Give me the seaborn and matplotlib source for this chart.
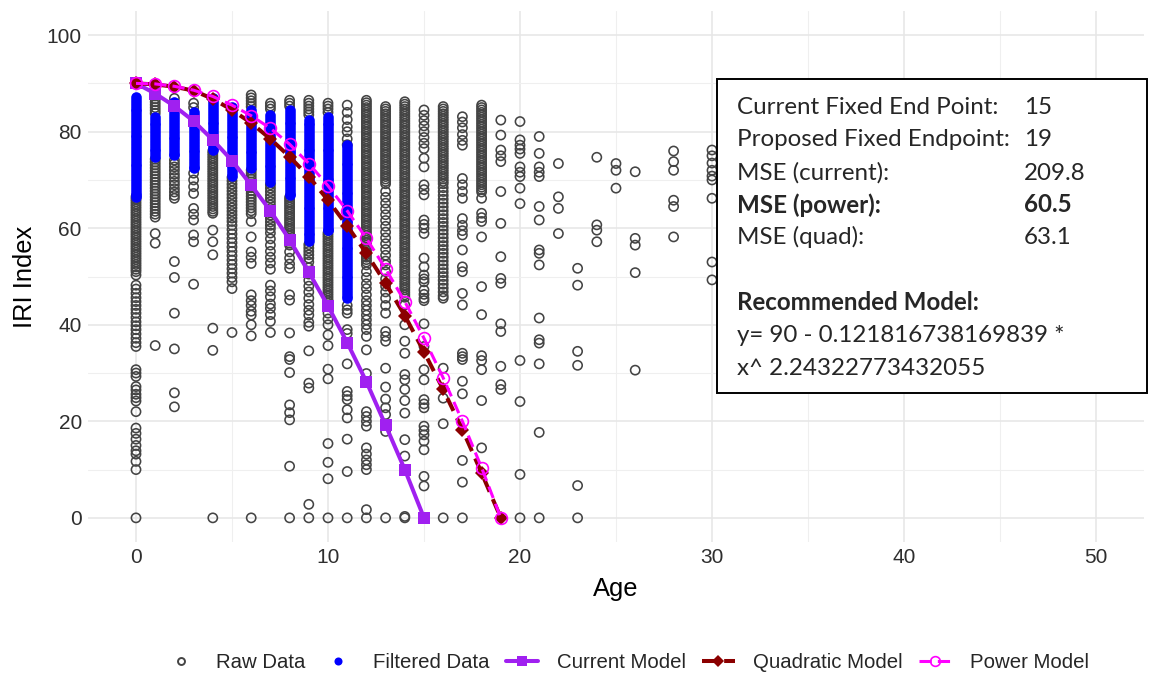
import numpy as np
import pandas as pd
import matplotlib
matplotlib.use("Agg")
import matplotlib.pyplot as plt
from matplotlib.lines import Line2D
from matplotlib.patches import Rectangle
import seaborn as sns

# ---------------- data ----------------
RAW_0 = [66.5, 66.0, 65.5, 65.0, 64.5, 64.0, 63.5, 63.0, 62.5, 62.0, 61.5, 61.0, 60.5, 60.0, 59.5, 59.0, 58.5, 58.0,
         57.5, 57.0, 56.5, 56.0, 55.5, 55.0, 54.5, 54.0, 53.5, 53.0, 52.5, 52.0, 51.5, 51.0,
         50.3, 48.2, 47.4, 46.5, 45.6, 44.8, 44.0, 43.2, 42.4, 41.5, 40.6, 39.8, 39.0, 38.1, 37.2, 36.3, 35.5, 30.7,
         30.0, 29.3, 27.2, 26.5, 25.6, 24.9, 24.2, 22.0, 18.6, 17.5, 16.3, 15.0, 13.9, 13.2, 11.7, 10.0, 0.0]
RAW_1 = [88.6, 88.0, 87.4, 86.8, 86.2, 85.6, 85.0, 84.4, 83.8, 74.3, 73.7, 73.1, 72.5, 71.9, 71.3, 70.7, 70.1, 69.5,
         68.9, 68.3, 67.7, 67.1, 66.5, 65.9, 65.3, 64.7, 64.1, 63.5, 62.9, 62.3, 58.9, 56.9, 35.7]
RAW_2 = [86.9, 74.1, 73.4, 72.7, 72.0, 71.2, 70.5, 69.7, 69.0, 68.2, 67.5, 66.8, 66.2, 53.1, 49.8, 42.4, 35.0, 25.9,
         23.0]
RAW_3 = [85.9, 85.0, 71.4, 70.0, 68.6, 67.2, 64.1, 62.9, 61.7, 58.6, 57.2, 48.4]
RAW_4 = [76.0, 75.5, 75.0, 74.5, 74.0, 73.5, 73.0, 72.5, 72.0, 71.5, 71.0, 70.5, 70.0, 69.5, 69.0, 68.5, 68.0, 67.5,
         67.0, 66.5, 66.0, 65.5, 65.0, 64.5, 64.0, 63.5, 63.1, 59.6, 57.2, 54.5, 39.3, 34.7, 0.0]
RAW_5 = [70.5, 69.8, 69.1, 68.4, 67.7, 67.0, 66.3, 65.6, 64.9, 64.2, 63.5, 62.8, 62.1, 61.4, 60.6, 59.7, 58.8, 57.9,
         57.0, 56.1, 55.2, 54.3, 53.4, 52.5, 51.6, 50.7, 49.8, 48.9, 47.5, 38.4]
RAW_6 = [87.6, 87.0, 86.4, 85.8, 85.2, 72.0, 71.4, 70.8, 70.2, 69.6, 69.0, 68.4, 67.8, 67.2, 66.6, 66.0, 65.4, 64.8,
         64.2, 63.6, 63.0, 61.4, 58.2, 55.1, 54.0, 52.7, 46.2, 45.0, 44.0, 42.8, 42.0, 40.0, 37.7, 0.0]
RAW_7 = [85.9, 85.3, 84.7, 69.0, 68.3, 67.6, 66.9, 66.2, 65.5, 64.8, 64.1, 63.4, 62.7, 62.0, 61.3, 60.6, 59.9, 59.0,
         57.8, 56.5, 55.2, 54.0, 52.8, 51.5, 48.2, 47.0, 45.8, 44.3, 43.4, 42.1, 40.7, 38.4]
RAW_8 = [86.5, 85.9, 85.3, 66.4, 65.9, 65.4, 64.9, 64.4, 63.9, 63.4, 62.9, 62.4, 61.9, 61.4, 60.9, 60.4, 59.9, 59.4,
         58.9, 58.4, 57.9, 57.4, 56.9, 56.5, 55.1, 53.8, 52.6, 51.7, 46.2, 45.1, 38.3, 33.4, 32.8, 30.1, 23.4, 21.8,
         20.3, 10.7, 0.0]
RAW_9 = [86.5, 85.9, 85.3, 84.7, 84.1, 83.5, 56.6, 55.9, 55.2, 54.5, 53.8, 53.0, 51.8, 50.5, 49.2, 48.0, 46.8, 45.5,
         44.2, 43.0, 42.0, 40.5, 39.7, 34.6, 27.9, 26.9, 2.8, 0.0]
RAW_10 = [85.9, 85.3, 84.7, 84.0, 59.0, 58.5, 58.0, 57.5, 57.0, 56.5, 56.0, 55.5, 55.0, 54.5, 54.0, 53.5, 53.0, 52.5,
          52.0, 51.5, 51.0, 50.5, 50.0, 49.5, 49.0, 48.5, 48.0, 47.5, 47.0, 46.5, 46.0, 45.5, 45.0, 44.5, 44.0, 42.4,
          41.2, 40.0, 37.9, 35.7, 30.8, 28.8, 15.4, 11.5, 8.1, 0.0]
RAW_11 = [85.5, 84.0, 82.5, 81.0, 80.0, 78.5, 77.3, 44.0, 43.1, 42.4, 39.0, 38.2, 31.9, 26.2, 25.3, 24.5, 22.4, 20.7,
          16.3, 9.6, 0.0]
RAW_12 = [86.5, 86.0, 85.5, 85.0, 84.5, 84.0, 83.5, 83.0, 82.5, 82.0, 81.5, 81.0, 80.5, 80.0, 79.5, 79.0, 78.5, 78.0,
          77.5, 77.0, 76.5, 76.0, 75.5, 75.0, 74.5, 74.0, 73.5, 73.0, 72.5, 72.0, 71.5, 71.0, 70.5, 70.0, 69.5, 69.0,
          68.5, 68.0, 67.5, 67.0, 66.5, 66.0, 65.5, 65.0, 64.5, 64.0, 63.5, 63.0, 62.5, 62.0, 61.5, 61.0, 60.5, 60.0,
          59.5, 59.0, 58.5, 58.0, 57.5, 57.0, 56.5, 56.0, 55.5, 55.0, 54.5, 54.0, 53.5, 53.0, 52.4, 51.0, 49.8, 48.5,
          47.5, 46.2, 45.0, 44.0, 43.0, 42.0, 41.0, 40.0, 39.0, 37.6, 34.8, 29.9, 22.0, 21.0, 20.0, 19.0, 14.5, 13.2,
          12.0, 11.0, 10.0, 1.7, 0.0]
RAW_13 = [85.2, 84.7, 84.2, 83.7, 83.2, 82.7, 82.2, 81.7, 81.2, 80.7, 80.2, 79.7, 79.2, 78.7, 78.2, 77.7, 77.2, 76.7,
          76.2, 75.7, 75.2, 74.7, 74.2, 73.7, 73.2, 72.7, 72.2, 71.7, 71.2, 70.7, 70.2, 69.7, 69.2, 67.6, 66.4, 65.2,
          64.0, 62.8, 61.6, 60.4, 59.2, 58.0, 56.8, 55.6, 54.4, 53.2, 52.4, 51.0, 49.5, 48.0, 46.8, 45.5, 44.0, 42.4,
          38.6, 37.6, 36.6, 31.0, 27.1, 24.6, 22.8, 21.4, 17.9, 0.0]
RAW_14 = [86.2, 85.7, 85.2, 84.7, 84.2, 83.7, 83.2, 82.7, 82.2, 81.7, 81.2, 80.7, 80.2, 79.7, 79.2, 78.7, 78.2, 77.7,
          77.2, 76.7, 76.2, 75.7, 75.2, 74.7, 74.2, 73.7, 73.2, 72.7, 72.2, 71.7, 71.2, 70.7, 70.2, 69.7, 69.2, 68.7,
          68.2, 67.7, 67.2, 66.7, 66.2, 65.7, 65.2, 64.7, 64.2, 63.7, 63.2, 62.7, 62.2, 61.7, 61.2, 60.7, 60.2, 59.7,
          59.2, 58.7, 58.2, 57.7, 57.2, 56.7, 56.2, 55.7, 55.2, 54.7, 54.2, 53.7, 53.2, 52.7, 52.2, 51.7, 51.2, 50.7,
          50.2, 49.7, 49.2, 48.7, 48.2, 47.7, 47.2, 46.7, 46.2, 45.7, 44.1, 40.0, 36.6, 34.1, 29.7, 28.6, 26.6, 24.3,
          21.7, 16.2, 12.8, 0.3, 0.0]
RAW_15 = [84.5, 83.4, 82.3, 81.2, 80.0, 78.8, 77.6, 76.5, 74.5, 72.7, 69.0, 68.0, 66.9, 61.7, 60.8, 60.0, 58.9, 53.8,
          52.0, 50.3, 49.5, 48.9, 47.2, 46.3, 45.5, 45.0, 40.2, 35.5, 30.7, 28.6, 24.5, 23.6, 22.8, 19.0, 18.1, 17.2,
          15.9, 14.1, 8.6, 6.6, 0.0]
RAW_16 = [85.2, 84.7, 84.2, 83.7, 83.2, 82.7, 82.2, 81.7, 81.2, 80.7, 80.2, 79.7, 79.2, 78.7, 78.2, 77.7, 77.2, 76.7,
          76.2, 75.7, 75.2, 74.7, 74.2, 73.7, 73.2, 72.7, 72.2, 71.7, 71.2, 70.7, 70.2, 69.7, 69.2, 68.4, 67.6, 66.8,
          66.0, 65.2, 64.4, 63.6, 62.8, 62.0, 61.2, 60.4, 59.6, 58.8, 58.0, 57.2, 56.4, 55.6, 54.8, 54.0, 53.2, 52.4,
          51.6, 50.8, 50.0, 49.2, 48.4, 47.6, 46.8, 46.0, 45.5, 31.0, 24.8, 19.5, 0.0]
RAW_17 = [83.1, 82.0, 80.8, 79.4, 78.2, 77.2, 70.3, 69.0, 67.6, 66.2, 62.0, 60.6, 59.5, 58.6, 55.5, 52.0, 51.0, 46.5,
          44.1, 34.1, 33.4, 32.8, 28.3, 25.7, 11.9, 7.4, 0.0]
RAW_18 = [85.5, 85.0, 84.5, 84.0, 83.5, 83.0, 82.5, 82.0, 81.5, 81.0, 80.5, 80.0, 79.5, 79.0, 78.5, 78.0, 77.5, 77.0,
          76.5, 76.0, 75.5, 75.0, 74.5, 74.0, 73.5, 73.0, 72.5, 72.0, 71.5, 71.0, 70.5, 70.0, 69.5, 69.0, 68.5, 68.0,
          67.5, 66.2, 63.1, 62.2, 61.4, 58.2, 47.9, 42.1, 33.6, 32.6, 30.7, 24.3, 14.5]
RAW_19 = [82.4, 79.3, 76.2, 75.0, 73.8, 67.6, 61.0, 54.1, 49.6, 48.6, 40.2, 38.6, 31.4, 27.6, 26.6]
RAW_20 = [82.1, 78.3, 77.2, 76.4, 75.5, 72.7, 71.6, 70.7, 68.3, 65.1, 32.6, 24.1, 9.0, 0.0]
RAW_21 = [79.0, 75.5, 72.7, 71.6, 70.7, 64.5, 61.7, 55.5, 54.8, 52.4, 41.4, 36.9, 36.2, 31.9, 17.7, 0.0]
RAW_22 = [73.4, 66.5, 64.1, 58.9]
RAW_23 = [51.7, 48.2, 34.5, 31.6, 6.7, 0.0]
RAW_24 = [74.7, 60.7, 59.6, 57.2]
RAW_25 = [73.4, 72.0, 68.3]
RAW_26 = [71.7, 57.9, 56.5, 50.8, 30.6]
RAW_28 = [76.0, 73.8, 72.0, 65.8, 64.5, 58.2]
RAW_30 = [76.2, 75.0, 73.5, 72.0, 70.8, 70.0, 66.2, 53.0, 49.3]

RAW_AGES = [0, 1, 2, 3, 4, 5, 6, 7, 8, 9, 10, 11, 12, 13, 14, 15, 16, 17, 18, 19, 20, 21, 22, 23, 24, 25, 26, 28, 30]
RAW_VALUES = [RAW_0, RAW_1, RAW_2, RAW_3, RAW_4, RAW_5, RAW_6, RAW_7, RAW_8, RAW_9, RAW_10, RAW_11, RAW_12, RAW_13,
              RAW_14, RAW_15, RAW_16, RAW_17, RAW_18, RAW_19, RAW_20, RAW_21, RAW_22, RAW_23, RAW_24, RAW_25,
              RAW_26, RAW_28, RAW_30]

FILT_0 = [87.2, 86.6, 86.0, 85.4, 84.8, 84.2, 83.6, 83.0, 82.4, 81.8, 81.2, 80.6, 80.0, 79.4, 78.8, 78.2, 77.6, 77.0,
          76.4, 75.8, 75.2, 74.6, 74.0, 73.4, 72.8, 72.2, 71.6, 71.0, 70.4, 69.8, 69.2, 68.6, 68.0, 67.4, 66.8, 66.5]
FILT_1 = [83.1, 82.5, 81.9, 81.3, 80.7, 80.1, 79.5, 78.9, 78.3, 77.7, 77.1, 76.5, 75.9, 75.3, 74.8]
FILT_2 = [86.2, 85.6, 85.0, 84.4, 83.8, 83.2, 82.6, 82.0, 81.4, 80.8, 80.2, 79.6, 79.0, 78.4, 77.8, 77.2, 76.6, 76.0,
          75.4, 75.2]
FILT_3 = [84.1, 83.5, 82.9, 82.3, 81.7, 81.1, 80.5, 79.9, 79.3, 78.7, 78.1, 77.5, 76.9, 76.3, 75.7, 75.1, 74.5, 73.9,
          73.3, 72.7, 72.4]
FILT_4 = [86.9, 86.3, 85.7, 85.1, 84.5, 83.9, 83.3, 82.7, 82.1, 81.5, 80.9, 80.3, 79.7, 79.1, 78.5, 77.9, 77.3, 76.7,
          76.2]
FILT_5 = [85.2, 84.6, 84.0, 83.4, 82.8, 82.2, 81.6, 81.0, 80.4, 79.8, 79.2, 78.6, 78.0, 77.4, 76.8, 76.2, 75.6, 75.0,
          74.4, 73.8, 73.2, 72.6, 72.0, 71.4, 70.8]
FILT_6 = [84.5, 83.9, 83.3, 82.7, 82.1, 81.5, 80.9, 80.3, 79.7, 79.1, 78.5, 77.9, 77.3, 76.7, 76.1, 75.5, 74.9, 74.3,
          73.7, 73.1, 72.5]
FILT_7 = [83.4, 82.8, 82.2, 81.6, 81.0, 80.4, 79.8, 79.2, 78.6, 78.0, 77.4, 76.8, 76.2, 75.6, 75.0, 74.4, 73.8, 73.2,
          72.6, 72.0, 71.4, 70.8, 70.2, 69.6]
FILT_8 = [84.5, 83.9, 83.3, 82.7, 82.1, 81.5, 80.9, 80.3, 79.7, 79.1, 78.5, 77.9, 77.3, 76.7, 76.1, 75.5, 74.9, 74.3,
          73.7, 73.1, 72.5, 71.9, 71.3, 70.7, 70.1, 69.5, 68.9, 68.3, 67.7, 67.1, 66.9]
FILT_9 = [82.5, 81.9, 81.3, 80.7, 80.1, 79.5, 78.9, 78.3, 77.7, 77.1, 76.5, 75.9, 75.3, 74.7, 74.1, 73.5, 72.9, 72.3,
          71.7, 71.1, 70.5, 69.9, 69.3, 68.7, 68.1, 67.5, 66.9, 66.3, 65.7, 65.1, 64.5, 63.9, 63.3, 62.7, 62.1, 61.5,
          60.9, 60.3, 59.7, 59.1, 58.5, 57.9, 57.3]
FILT_10 = [83.1, 82.5, 81.9, 81.3, 80.7, 80.1, 79.5, 78.9, 78.3, 77.7, 77.1, 76.5, 75.9, 75.3, 74.7, 74.1, 73.5, 72.9,
           72.3, 71.7, 71.1, 70.5, 69.9, 69.3, 68.7, 68.1, 67.5, 66.9, 66.3, 65.7, 65.1, 64.5, 63.9, 63.3, 62.7, 62.1,
           61.5, 60.9, 60.3, 59.7, 59.6]
FILT_11 = [77.2, 76.6, 76.0, 75.4, 74.8, 74.2, 73.6, 73.0, 72.4, 71.8, 71.2, 70.6, 70.0, 69.4, 68.8, 68.2, 67.6, 67.0,
           66.4, 65.8, 65.2, 64.6, 64.0, 63.4, 62.8, 62.2, 61.6, 61.0, 60.4, 59.8, 59.2, 58.6, 58.0, 57.4, 56.8, 56.2,
           55.6, 55.0, 54.4, 53.8, 53.2, 52.6, 52.0, 51.4, 50.8, 50.2, 49.6, 49.0, 48.4, 47.8, 47.2, 46.6, 46.0, 45.5]

FILT_AGES = [0, 1, 2, 3, 4, 5, 6, 7, 8, 9, 10, 11]
FILT_VALUES = [FILT_0, FILT_1, FILT_2, FILT_3, FILT_4, FILT_5, FILT_6, FILT_7, FILT_8, FILT_9, FILT_10, FILT_11]

CURRENT_AGE = [0, 1, 2, 3, 4, 5, 6, 7, 8, 9, 10, 11, 12, 13, 14, 15]
CURRENT_IRI = [90, 87.9, 85.3, 82.2, 78.3, 74.0, 68.9, 63.6, 57.6, 50.9, 43.9, 36.3, 28.2, 19.2, 10.0, 0]

MODEL_AGE = [0, 1, 2, 3, 4, 5, 6, 7, 8, 9, 10, 11, 12, 13, 14, 15, 16, 17, 18, 19]
QUAD_IRI = [90, 89.8, 89.3, 88.5, 86.8, 84.5, 81.8, 78.5, 74.8, 70.7, 65.8, 60.5, 54.8, 48.6, 41.9, 34.4, 26.6, 18.3,
            9.3, 0]
POWER_IRI = [90, 89.9, 89.4, 88.6, 87.3, 85.5, 83.3, 80.7, 77.4, 73.4, 68.8, 63.6, 57.9, 51.6, 44.8, 37.2, 29.0, 20.0,
             10.4, 0]

X_TICKS = [0, 10, 20, 30, 40, 50]
Y_TICKS = [0, 20, 40, 60, 80, 100]
LEGEND_LABELS = ["Raw Data", "Filtered Data", "Current Model", "Quadratic Model", "Power Model"]

BOX_LABELS = ["Current Fixed End Point:", "Proposed Fixed Endpoint:", "MSE (current):", "MSE (power):", "MSE (quad):"]
BOX_VALUES = ["15", "19", "209.8", "60.5", "63.1"]
BOX_BOLD = [False, False, False, True, False]
RECOMMENDED = ["Recommended Model:", "y= 90 - 0.121816738169839 *", "x^ 2.24322773432055"]

# ---------------- frames ----------------
raw_df = pd.DataFrame({
    "Age": np.concatenate([[a] * len(v) for a, v in zip(RAW_AGES, RAW_VALUES)]),
    "IRI": np.concatenate(RAW_VALUES),
})
filt_df = pd.DataFrame({
    "Age": np.concatenate([[a] * len(v) for a, v in zip(FILT_AGES, FILT_VALUES)]),
    "IRI": np.concatenate(FILT_VALUES),
})
cur_df = pd.DataFrame({"Age": CURRENT_AGE, "IRI": CURRENT_IRI})
quad_df = pd.DataFrame({"Age": MODEL_AGE, "IRI": QUAD_IRI})
pow_df = pd.DataFrame({"Age": MODEL_AGE, "IRI": POWER_IRI})

# ---------------- style ----------------
sns.set_theme(style="white")
plt.rcParams["font.family"] = ["Liberation Sans", "DejaVu Sans"]

W, H = 1151, 677
fig = plt.figure(figsize=(W / 100, H / 100), dpi=100)
fig.patch.set_facecolor("white")
ax = fig.add_axes([88 / W, 135 / H, 1056 / W, 531 / H])
ax.set_facecolor("white")

RAW_C = "#444444"
BLUE = "#0000FF"
PURPLE = "#A020F0"
DARKRED = "#8B0000"
MAGENTA = "#FF00FF"

sns.scatterplot(data=raw_df, x="Age", y="IRI", ax=ax, s=44, marker="o", color=RAW_C,
                linewidth=1.15, legend=False, zorder=3)
ax.collections[-1].set_facecolor("none")
ax.collections[-1].set_edgecolor(RAW_C)

sns.scatterplot(data=filt_df, x="Age", y="IRI", ax=ax, s=58, marker="o", color=BLUE,
                linewidth=0, legend=False, zorder=4)

sns.lineplot(data=cur_df, x="Age", y="IRI", ax=ax, color=PURPLE, linewidth=2.9, marker="s",
             markersize=8.3, markeredgewidth=0, estimator=None, sort=False, legend=False, zorder=5)
sns.lineplot(data=quad_df, x="Age", y="IRI", ax=ax, color=DARKRED, linewidth=2.9, marker="D",
             markersize=7.3, markeredgewidth=0, estimator=None, sort=False, legend=False, zorder=6,
             linestyle=(0, (3.5, 2)))
sns.lineplot(data=pow_df, x="Age", y="IRI", ax=ax, color=MAGENTA, linewidth=2.2, marker="o",
             markersize=8.5, markerfacecolor="none", markeredgecolor=MAGENTA, markeredgewidth=1.2,
             estimator=None, sort=False, legend=False, zorder=7, linestyle=(0, (4, 2)))

# ---------------- axes ----------------
ax.set_xlim(-2.5, 52.5)
ax.set_ylim(-5, 105)
ax.set_xticks(X_TICKS)
ax.set_yticks(Y_TICKS)
ax.set_xticks([5, 15, 25, 35, 45], minor=True)
ax.set_yticks([10, 30, 50, 70, 90], minor=True)
ax.grid(True, which="major", color="#E6E6E6", linewidth=1.1, zorder=0)
ax.grid(True, which="minor", color="#EFEFEF", linewidth=0.8, zorder=0)
ax.set_axisbelow(True)
for sp in ax.spines.values():
    sp.set_visible(False)
ax.tick_params(axis="both", which="both", length=0, labelsize=15, labelcolor="#2E2E2E")
ax.tick_params(axis="x", pad=4)
ax.tick_params(axis="y", pad=4.5)
ax.set_xlabel("Age", fontsize=18.4, color="black")
ax.set_ylabel("IRI Index", fontsize=18.4, color="black")
ax.xaxis.set_label_coords(0.5, -0.066)
ax.yaxis.set_label_coords(-0.048, 0.5)

# ---------------- legend ----------------
handles = [
    Line2D([], [], linestyle="none", marker="o", markersize=5, markerfacecolor="none",
           markeredgecolor=RAW_C, markeredgewidth=1.4),
    Line2D([], [], linestyle="none", marker="o", markersize=5.8, markerfacecolor=BLUE,
           markeredgecolor=BLUE, markeredgewidth=0),
    Line2D([], [], color=PURPLE, linewidth=2.9, marker="s", markersize=7, markeredgewidth=0),
    Line2D([], [], color=DARKRED, linewidth=2.9, marker="D", markersize=6, markeredgewidth=0,
           linestyle=(0, (3.5, 2))),
    Line2D([], [], color=MAGENTA, linewidth=2.2, marker="o", markersize=7, markerfacecolor="none",
           markeredgecolor=MAGENTA, markeredgewidth=1.2, linestyle=(0, (4, 2))),
]
fig.legend(handles, LEGEND_LABELS, loc="center", bbox_to_anchor=(627 / W, 1 - 663 / H), ncol=5,
           frameon=False, fontsize=14.7, handlelength=1.6, handletextpad=0.9, columnspacing=0.8,
           borderaxespad=0, borderpad=0)

# ---------------- annotation box ----------------
fig.patches.append(Rectangle((717 / W, 1 - 393 / H), (1147 - 717) / W, (393 - 79) / H,
                             transform=fig.transFigure, facecolor="white", edgecolor="black",
                             linewidth=1.4, zorder=10))

BOX_FONT = ["Lato", "DejaVu Sans"]
renderer = fig.canvas.get_renderer()
probe = fig.text(0, 0, BOX_LABELS[0], fontsize=20, family=BOX_FONT)
wpx = probe.get_window_extent(renderer).width
probe.remove()
box_fs = 20 * 263.0 / wpx

row_y = [107, 140, 173, 205, 237]
for lab, val, bold, yy in zip(BOX_LABELS, BOX_VALUES, BOX_BOLD, row_y):
    fw = "bold" if bold else "normal"
    fig.text(737 / W, 1 - yy / H, lab, fontsize=box_fs, family=BOX_FONT, fontweight=fw,
             va="center", ha="left", zorder=11)
    fig.text(1024 / W, 1 - yy / H, val, fontsize=box_fs, family=BOX_FONT, fontweight=fw,
             va="center", ha="left", zorder=11)
for i, (txt, yy) in enumerate(zip(RECOMMENDED, [303, 335, 368])):
    fig.text(737 / W, 1 - yy / H, txt, fontsize=box_fs, family=BOX_FONT,
             fontweight="bold" if i == 0 else "normal", va="center", ha="left", zorder=11)

fig.savefig("out.png", dpi=100, facecolor="white")
